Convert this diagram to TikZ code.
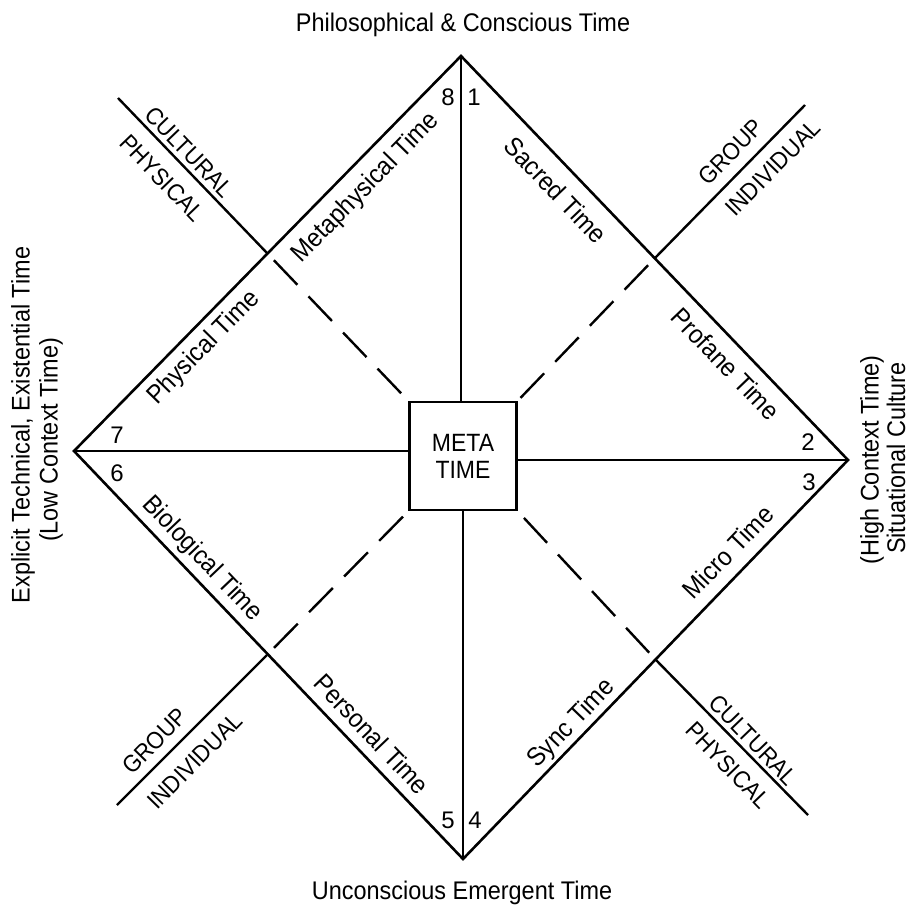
\documentclass[tikz,border=0pt]{standalone}
\usepackage{fontspec}
\setmainfont{Liberation Sans}
\newcommand{\nar}[1]{\scalebox{0.92}[1]{#1}}
\begin{document}
\begin{tikzpicture}[x=1pt,y=-1pt,
  edge/.style={line width=2.6pt,line join=miter},
  ext/.style={line width=2.4pt},
  dashline/.style={line width=2.4pt,dash pattern=on 34pt off 16pt,dash phase=40pt},
  lbl/.style={font=\fontsize{26}{29}\selectfont,inner sep=0pt},
  extcap/.style={font=\fontsize{24}{27}\selectfont,inner sep=0pt},
  num/.style={font=\fontsize{24}{26}\selectfont,inner sep=0pt},
  ttl/.style={font=\fontsize{25.5}{28}\selectfont,inner sep=0pt}]
\useasboundingbox (0,0) rectangle (912,914);
% vertices
\coordinate (T) at (461,56);
\coordinate (R) at (848,460);
\coordinate (B) at (463,859);
\coordinate (L) at (74,451);
% edge midpoints
\coordinate (MTL) at (267,253);
\coordinate (MTR) at (655,258);
\coordinate (MBL) at (267,655);
\coordinate (MBR) at (656,660);
% extension ends
\coordinate (ETL) at (118,98);
\coordinate (ETR) at (805,105);
\coordinate (EBL) at (117,805);
\coordinate (EBR) at (808,815);
% diamond
\draw[edge] (T) -- (R) -- (B) -- (L) -- cycle;
% center box
\node[draw,line width=2.6pt,fill=white,minimum width=107pt,minimum height=108pt,inner sep=0pt,
  font=\fontsize{25}{27}\selectfont,align=center] (box) at (463,456) {\nar{META}\\\nar{TIME}};
% axes
\draw[edge] (T) -- (box.north -| T);
\draw[edge] (box.south -| B) -- (B);
\draw[edge] (L) -- (box.west |- L);
\draw[edge] (box.east |- R) -- (R);
% dashed
\draw[dashline] (MTL) -- (box.north west);
\draw[dashline] (MTR) -- (box.north east);
\draw[dashline] (MBL) -- (box.south west);
\draw[dashline] (MBR) -- (box.south east);
% extensions
\draw[ext] (MTL) -- (ETL);
\draw[ext] (MTR) -- (ETR);
\draw[ext] (MBL) -- (EBL);
\draw[ext] (MBR) -- (EBR);
% quadrant labels
\node[lbl,rotate=45.6] (meta) at (366,188) {\nar{Metaphysical Time}};
\node[lbl,rotate=45.6] (phys) at (204,348) {\nar{Physical Time}};
\node[lbl,rotate=-46.2] (sacr) at (556,190) {\nar{Sacred Time}};
\node[lbl,rotate=-46.2] (prof) at (726,364) {\nar{Profane Time}};
\node[lbl,rotate=46] (micr) at (728,552) {\nar{Micro Time}};
\node[lbl,rotate=46] (sync) at (572,724) {\nar{Sync Time}};
\node[lbl,rotate=-46.4] (biol) at (202,559) {\nar{Biological Time}};
\node[lbl,rotate=-46.4] (pers) at (372,734) {\nar{Personal Time}};
% numbers
\node[num] (n8) at (448,97) {8};
\node[num] (n1) at (474,97) {1};
\node[num] (n7) at (117,435) {7};
\node[num] (n6) at (117,473) {6};
\node[num] (n2) at (808,442) {2};
\node[num] (n3) at (809,482) {3};
\node[num] (n5) at (448,820) {5};
\node[num] (n4) at (475,820) {4};
% extension captions
\node[extcap,rotate=-46.1] (c1) at (189,152) {\nar{CULTURAL}};
\node[extcap,rotate=-46.1] (p1) at (162,178) {\nar{PHYSICAL}};
\node[extcap,rotate=45.6] (g1) at (731,152) {\nar{GROUP}};
\node[extcap,rotate=45.6] (i1) at (773,168) {\nar{INDIVIDUAL}};
\node[extcap,rotate=45.6] (g2) at (155,741) {\nar{GROUP}};
\node[extcap,rotate=45.6] (i2) at (195,761) {\nar{INDIVIDUAL}};
\node[extcap,rotate=-46.1] (c2) at (753,740) {\nar{CULTURAL}};
\node[extcap,rotate=-46.1] (p2) at (728,765) {\nar{PHYSICAL}};
% titles
\node[ttl] (top) at (463,25) {\nar{Philosophical \& Conscious Time}};
\node[ttl] (bot) at (462,893) {\nar{Unconscious Emergent Time}};
\node[ttl,rotate=90] (lft1) at (23,425) {\nar{Explicit Technical, Existential Time}};
\node[ttl,rotate=90] (lft2) at (51,440) {\nar{(Low Context Time)}};
\node[ttl,rotate=90] (rgt1) at (872,460) {\nar{(High Context Time)}};
\node[ttl,rotate=90] (rgt2) at (896,458) {\nar{Situational Culture}};
\end{tikzpicture}
\end{document}
